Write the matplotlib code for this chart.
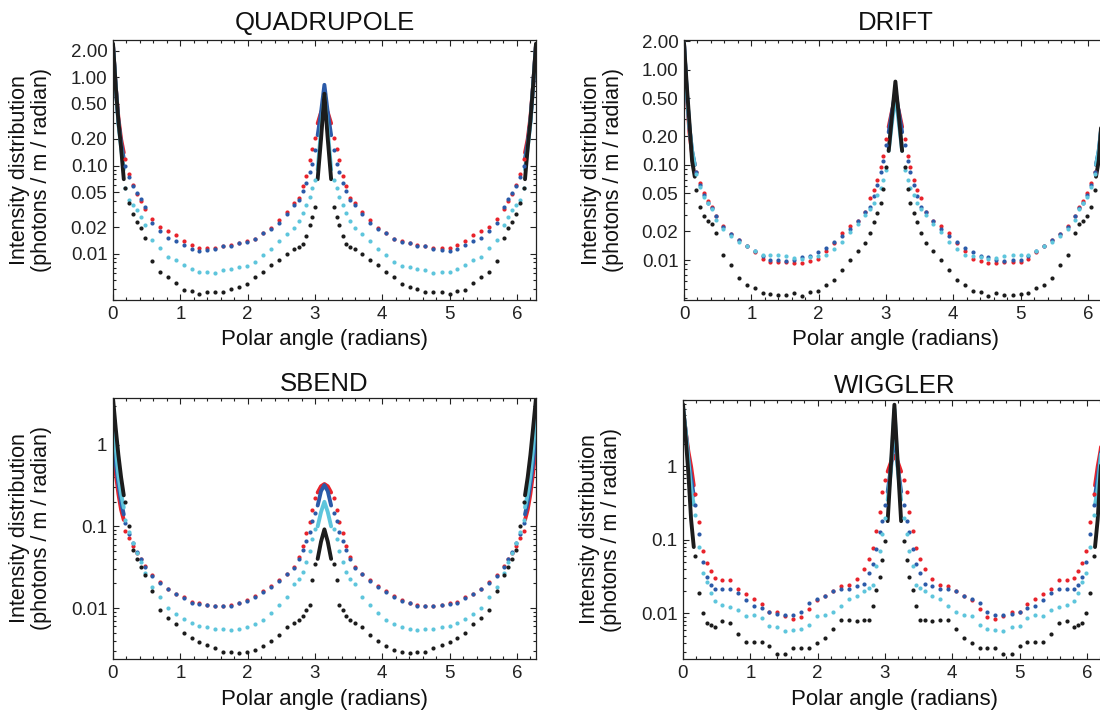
import numpy as np
import matplotlib
matplotlib.use("Agg")
import matplotlib.pyplot as plt
from matplotlib.ticker import FixedLocator, FixedFormatter, NullFormatter

plt.rcParams['font.family'] = ['Liberation Sans', 'DejaVu Sans']

W, H = 1100, 711
nan = np.nan

# ---------------- data ----------------
# polar angles of the sparse samples (radians)
angle = [0.18, 0.24, 0.30, 0.36, 0.41, 0.47, 0.58, 0.70, 0.82, 0.93, 1.05, 1.17, 1.28, 1.40, 1.52, 1.64,
         1.76, 1.87, 1.99, 2.11, 2.23, 2.34, 2.46, 2.58, 2.69, 2.76, 2.82, 2.87, 2.92, 2.96, 3.00,
         3.28, 3.32, 3.36, 3.41, 3.46, 3.52, 3.59, 3.70, 3.82, 3.94, 4.05, 4.17, 4.29, 4.41, 4.52, 4.64,
         4.76, 4.88, 5.00, 5.11, 5.23, 5.35, 5.46, 5.58, 5.70, 5.81, 5.87, 5.92, 5.98, 6.04, 6.10]
# polar angles of the densely sampled stretches (edges and the peak at pi)
dense_angle = [0.00, 0.04, 0.08, 0.12, 0.16, nan, 3.04, 3.09, 3.14, 3.19, 3.24, nan,
               6.12, 6.16, 6.20, 6.24, 6.283]

# QUADRUPOLE
quad_red = [0.119, 0.080, 0.060, 0.047, 0.040, 0.032, 0.025, 0.020, 0.018, 0.0164, 0.0141, 0.0127, 0.0117,
            0.0116, 0.0116, 0.0123, 0.0125, 0.0133, 0.0138, 0.0149, 0.0174, 0.0196, 0.0242, 0.0298, 0.038,
            0.043, 0.058, 0.077, 0.115, 0.153, 0.207,
            0.207, 0.153, 0.115, 0.077, 0.058, 0.043, 0.038, 0.0298, 0.0242, 0.0196, 0.0174, 0.0149, 0.0138,
            0.0133, 0.0125, 0.0123, 0.0116, 0.0116, 0.0117, 0.0127, 0.0141, 0.0164, 0.018, 0.020, 0.025,
            0.032, 0.040, 0.047, 0.060, 0.080, 0.119]
quad_blue = [0.100, 0.075, 0.058, 0.049, 0.042, 0.034, 0.0225, 0.0182, 0.0150, 0.0139, 0.0125, 0.0113, 0.0109,
             0.0110, 0.0113, 0.0122, 0.0124, 0.0131, 0.0137, 0.0148, 0.0172, 0.0193, 0.0225, 0.028, 0.036,
             0.041, 0.052, 0.063, 0.085, 0.105, 0.150,
             0.150, 0.105, 0.085, 0.063, 0.052, 0.041, 0.036, 0.028, 0.0225, 0.0193, 0.0172, 0.0148, 0.0137,
             0.0131, 0.0124, 0.0122, 0.0113, 0.0110, 0.0109, 0.0113, 0.0125, 0.0139, 0.0150, 0.0182, 0.0225,
             0.034, 0.042, 0.049, 0.058, 0.075, 0.100]
quad_cyan = [0.055, 0.041, 0.036, 0.031, 0.026, 0.021, 0.0145, 0.0115, 0.0093, 0.0086, 0.0075, 0.0068, 0.0063,
             0.0062, 0.0060, 0.0066, 0.0067, 0.0071, 0.0073, 0.0081, 0.0098, 0.0114, 0.0138, 0.0168, 0.0198,
             0.0236, 0.029, 0.036, 0.044, 0.055, 0.068,
             0.068, 0.055, 0.044, 0.036, 0.029, 0.0236, 0.0198, 0.0168, 0.0138, 0.0114, 0.0098, 0.0081, 0.0073,
             0.0071, 0.0067, 0.0066, 0.0060, 0.0062, 0.0063, 0.0068, 0.0075, 0.0086, 0.0093, 0.0115, 0.0145,
             0.021, 0.026, 0.031, 0.036, 0.041, 0.055]
quad_black = [0.055, 0.038, 0.028, 0.023, 0.0196, 0.015, 0.0083, 0.0063, 0.0054, 0.0047, 0.0039, 0.0038, 0.0035,
              0.0037, 0.0037, 0.0037, 0.0040, 0.0042, 0.0045, 0.0054, 0.0063, 0.0074, 0.0085, 0.0099, 0.0113,
              0.0118, 0.0128, 0.016, 0.021, 0.026, 0.034,
              0.034, 0.026, 0.021, 0.016, 0.0128, 0.0118, 0.0113, 0.0099, 0.0085, 0.0074, 0.0063, 0.0054, 0.0045,
              0.0042, 0.0040, 0.0037, 0.0037, 0.0037, 0.0035, 0.0038, 0.0039, 0.0047, 0.0054, 0.0063, 0.0083,
              0.015, 0.0196, 0.023, 0.028, 0.038, 0.055]
quad_red_dense = [2.3, 0.8, 0.35, 0.20, 0.14, nan, 0.30, 0.40, 0.48, 0.40, 0.30, nan, 0.14, 0.20, 0.35, 0.8, 2.3]
quad_blue_dense = [2.3, 0.8, 0.32, 0.18, 0.12, nan, 0.22, 0.40, 0.82, 0.40, 0.22, nan, 0.12, 0.18, 0.32, 0.8, 2.3]
quad_cyan_dense = [2.3, 0.8, 0.30, 0.16, 0.09, nan, 0.09, 0.25, 0.62, 0.25, 0.09, nan, 0.09, 0.16, 0.30, 0.8, 2.3]
quad_black_dense = [2.4, 0.8, 0.32, 0.16, 0.07, nan, 0.07, 0.20, 0.65, 0.20, 0.07, nan, 0.07, 0.16, 0.32, 0.8, 2.4]

# DRIFT
drift_red = [0.085, 0.065, 0.050, 0.042, 0.036, 0.029, 0.0225, 0.0189, 0.0161, 0.0141, 0.0120, 0.0102, 0.0095,
             0.0095, 0.0095, 0.0093, 0.0093, 0.0097, 0.0102, 0.0125, 0.0151, 0.0190, 0.0225, 0.0255, 0.032,
             0.045, 0.055, 0.070, 0.095, 0.125, 0.187,
             0.187, 0.125, 0.095, 0.070, 0.055, 0.045, 0.032, 0.0255, 0.0225, 0.0190, 0.0151, 0.0125, 0.0102,
             0.0097, 0.0093, 0.0093, 0.0095, 0.0095, 0.0095, 0.0102, 0.0120, 0.0141, 0.0161, 0.0189, 0.0225,
             0.029, 0.036, 0.042, 0.050, 0.065, 0.085]
drift_blue = [0.085, 0.062, 0.048, 0.040, 0.035, 0.0287, 0.0222, 0.0189, 0.0161, 0.0139, 0.0125, 0.0111, 0.0101,
              0.0099, 0.0098, 0.0101, 0.0107, 0.0111, 0.0120, 0.0134, 0.0155, 0.0177, 0.0211, 0.0259, 0.0316,
              0.036, 0.047, 0.062, 0.085, 0.110, 0.160,
              0.160, 0.110, 0.085, 0.062, 0.047, 0.036, 0.0316, 0.0259, 0.0211, 0.0177, 0.0155, 0.0134, 0.0120,
              0.0111, 0.0107, 0.0101, 0.0098, 0.0099, 0.0101, 0.0111, 0.0125, 0.0139, 0.0161, 0.0189, 0.0222,
              0.0287, 0.035, 0.040, 0.048, 0.062, 0.085]
drift_cyan = [0.080, 0.058, 0.046, 0.040, 0.034, 0.0265, 0.0213, 0.0180, 0.0156, 0.0139, 0.0123, 0.0113, 0.0112,
              0.0112, 0.0109, 0.0105, 0.0103, 0.0107, 0.0109, 0.0114, 0.0130, 0.0156, 0.0195, 0.0239, 0.030,
              0.034, 0.040, 0.048, 0.057, 0.070, 0.089,
              0.089, 0.070, 0.057, 0.048, 0.040, 0.034, 0.030, 0.0239, 0.0195, 0.0156, 0.0130, 0.0114, 0.0109,
              0.0107, 0.0103, 0.0105, 0.0109, 0.0112, 0.0112, 0.0113, 0.0123, 0.0139, 0.0156, 0.0180, 0.0213,
              0.0265, 0.034, 0.040, 0.046, 0.058, 0.080]
drift_black = [0.055, 0.036, 0.029, 0.026, 0.024, 0.019, 0.0113, 0.0089, 0.0065, 0.0055, 0.0051, 0.0045, 0.0044,
               0.0043, 0.0043, 0.0045, 0.0042, 0.0046, 0.0047, 0.0054, 0.0062, 0.0079, 0.0101, 0.0125, 0.015,
               0.019, 0.025, 0.031, 0.040, 0.056, 0.096,
               0.096, 0.056, 0.040, 0.031, 0.025, 0.019, 0.015, 0.0125, 0.0101, 0.0079, 0.0062, 0.0054, 0.0047,
               0.0046, 0.0042, 0.0045, 0.0043, 0.0043, 0.0044, 0.0045, 0.0051, 0.0055, 0.0065, 0.0089, 0.0113,
               0.019, 0.024, 0.026, 0.029, 0.036, 0.055]
drift_red_dense = [1.9, 0.55, 0.22, 0.13, 0.10, nan, 0.25, 0.37, 0.50, 0.37, 0.25, nan, 0.10, 0.13, 0.22, 0.55, 1.9]
drift_blue_dense = [1.9, 0.60, 0.25, 0.14, 0.10, nan, 0.22, 0.36, 0.60, 0.36, 0.22, nan, 0.10, 0.14, 0.25, 0.60, 1.9]
drift_cyan_dense = [1.9, 0.60, 0.25, 0.14, 0.10, nan, 0.14, 0.28, 0.55, 0.28, 0.14, nan, 0.10, 0.14, 0.25, 0.60, 1.9]
drift_black_dense = [1.9, 0.70, 0.28, 0.11, 0.075, nan, 0.14, 0.33, 0.75, 0.33, 0.14, nan, 0.075, 0.11, 0.28, 0.70, 1.9]

# SBEND
sbend_red = [0.087, 0.072, 0.058, 0.047, 0.040, 0.033, 0.0254, 0.0206, 0.0173, 0.0150, 0.0135, 0.0118, 0.0115,
             0.0110, 0.0107, 0.0107, 0.0109, 0.0117, 0.0124, 0.0139, 0.0160, 0.0184, 0.0218, 0.0263, 0.0315,
             0.042, 0.058, 0.083, 0.113, 0.160, 0.220,
             0.220, 0.160, 0.113, 0.083, 0.058, 0.042, 0.0315, 0.0263, 0.0218, 0.0184, 0.0160, 0.0139, 0.0124,
             0.0117, 0.0109, 0.0107, 0.0107, 0.0110, 0.0115, 0.0118, 0.0135, 0.0150, 0.0173, 0.0206, 0.0254,
             0.033, 0.040, 0.047, 0.058, 0.072, 0.087]
sbend_blue = [0.110, 0.080, 0.062, 0.049, 0.040, 0.032, 0.0250, 0.0203, 0.0170, 0.0148, 0.0132, 0.0116, 0.0112,
              0.0108, 0.0105, 0.0105, 0.0107, 0.0114, 0.0121, 0.0136, 0.0156, 0.0180, 0.0213, 0.0258, 0.031,
              0.040, 0.052, 0.066, 0.085, 0.116, 0.146,
              0.146, 0.116, 0.085, 0.066, 0.052, 0.040, 0.031, 0.0258, 0.0213, 0.0180, 0.0156, 0.0136, 0.0121,
              0.0114, 0.0107, 0.0105, 0.0105, 0.0108, 0.0112, 0.0116, 0.0132, 0.0148, 0.0170, 0.0203, 0.0250,
              0.032, 0.040, 0.049, 0.062, 0.080, 0.110]
sbend_cyan = [0.120, 0.085, 0.062, 0.047, 0.037, 0.027, 0.018, 0.0135, 0.0100, 0.0085, 0.0074, 0.0066, 0.0061,
              0.0058, 0.0056, 0.0055, 0.0054, 0.0055, 0.0058, 0.0063, 0.0072, 0.0088, 0.0110, 0.0135, 0.0197,
              0.023, 0.028, 0.037, 0.050, 0.070, 0.094,
              0.094, 0.070, 0.050, 0.037, 0.028, 0.023, 0.0197, 0.0135, 0.0110, 0.0088, 0.0072, 0.0063, 0.0058,
              0.0055, 0.0054, 0.0055, 0.0056, 0.0058, 0.0061, 0.0066, 0.0074, 0.0085, 0.0100, 0.0135, 0.018,
              0.027, 0.037, 0.047, 0.062, 0.085, 0.120]
sbend_black = [0.20, 0.10, 0.052, 0.040, 0.032, 0.0255, 0.016, 0.0095, 0.0075, 0.0063, 0.0050, 0.0043, 0.0038,
               0.0035, 0.0032, 0.0029, 0.0029, 0.0028, 0.0029, 0.0031, 0.0034, 0.0039, 0.0047, 0.0059, 0.0066,
               0.0072, 0.0079, 0.0095, 0.011, 0.022, 0.0346,
               0.0346, 0.022, 0.011, 0.0095, 0.0079, 0.0072, 0.0066, 0.0059, 0.0047, 0.0039, 0.0034, 0.0031, 0.0029,
               0.0028, 0.0029, 0.0029, 0.0032, 0.0035, 0.0038, 0.0043, 0.0050, 0.0063, 0.0075, 0.0095, 0.016,
               0.0255, 0.032, 0.040, 0.052, 0.10, 0.20]
sbend_red_dense = [1.0, 0.45, 0.25, 0.16, 0.12, nan, 0.26, 0.31, 0.33, 0.31, 0.26, nan, 0.12, 0.16, 0.25, 0.45, 1.0]
sbend_blue_dense = [1.5, 0.60, 0.33, 0.20, 0.14, nan, 0.18, 0.27, 0.32, 0.27, 0.18, nan, 0.14, 0.20, 0.33, 0.60, 1.5]
sbend_cyan_dense = [2.2, 0.90, 0.42, 0.25, 0.17, nan, 0.10, 0.15, 0.20, 0.15, 0.10, nan, 0.17, 0.25, 0.42, 0.90, 2.2]
sbend_black_dense = [3.7, 1.6, 0.75, 0.40, 0.24, nan, 0.040, 0.065, 0.092, 0.065, 0.040, nan, 0.24, 0.40, 0.75, 1.6, 3.7]

# WIGGLER
wig_red = [0.42, 0.175, 0.070, 0.048, 0.038, 0.030, 0.0283, 0.0286, 0.0216, 0.0185, 0.0158, 0.0135, 0.0105,
           0.0105, 0.0091, 0.0084, 0.0090, 0.0115, 0.0152, 0.0175, 0.0201, 0.0235, 0.0240, 0.0296, 0.0404,
           0.0558, 0.078, 0.131, 0.241, 0.45, 0.65,
           0.65, 0.45, 0.241, 0.131, 0.078, 0.0558, 0.0404, 0.0296, 0.0240, 0.0235, 0.0201, 0.0175, 0.0152,
           0.0115, 0.0090, 0.0084, 0.0091, 0.0105, 0.0105, 0.0135, 0.0158, 0.0185, 0.0216, 0.0286, 0.0283,
           0.030, 0.038, 0.048, 0.070, 0.175, 0.42]
wig_blue = [0.30, 0.12, 0.050, 0.031, 0.024, 0.0212, 0.0212, 0.0216, 0.0187, 0.0150, 0.0126, 0.0117, 0.0104,
            0.0097, 0.0096, 0.0094, 0.0104, 0.0137, 0.0155, 0.0175, 0.0201, 0.0216, 0.0216, 0.0235, 0.0248,
            0.035, 0.047, 0.0755, 0.13, 0.179, 0.30,
            0.30, 0.179, 0.13, 0.0755, 0.047, 0.035, 0.0248, 0.0235, 0.0216, 0.0216, 0.0201, 0.0175, 0.0155,
            0.0137, 0.0104, 0.0094, 0.0096, 0.0097, 0.0104, 0.0117, 0.0126, 0.0150, 0.0187, 0.0216, 0.0212,
            0.0212, 0.024, 0.031, 0.050, 0.12, 0.30]
wig_cyan = [0.22, 0.08, 0.035, 0.0266, 0.019, 0.0147, 0.0132, 0.0123, 0.0110, 0.0092, 0.0095, 0.0088, 0.0068,
            0.0066, 0.0058, 0.0060, 0.0062, 0.0069, 0.0092, 0.0094, 0.0106, 0.0126, 0.0155, 0.0175, 0.020,
            0.022, 0.024, 0.044, 0.07, 0.12, 0.20,
            0.20, 0.12, 0.07, 0.044, 0.024, 0.022, 0.020, 0.0175, 0.0155, 0.0126, 0.0106, 0.0094, 0.0092,
            0.0069, 0.0062, 0.0060, 0.0058, 0.0066, 0.0068, 0.0088, 0.0095, 0.0092, 0.0110, 0.0123, 0.0132,
            0.0147, 0.019, 0.0266, 0.035, 0.08, 0.22]
wig_black = [0.06, 0.019, 0.0102, 0.0075, 0.0070, 0.0066, 0.0079, 0.0075, 0.0052, 0.0041, 0.0041, 0.0041, 0.0036,
             0.0028, 0.0028, 0.0034, 0.0034, 0.0034, 0.0040, 0.0047, 0.0062, 0.0081, 0.0081, 0.0079, 0.0082,
             0.0082, 0.0128, 0.021, 0.031, 0.054, 0.096,
             0.096, 0.054, 0.031, 0.021, 0.0128, 0.0082, 0.0082, 0.0079, 0.0081, 0.0081, 0.0062, 0.0047, 0.0040,
             0.0034, 0.0034, 0.0034, 0.0028, 0.0028, 0.0036, 0.0041, 0.0041, 0.0041, 0.0052, 0.0075, 0.0079,
             0.0066, 0.0070, 0.0075, 0.0102, 0.019, 0.06]
wig_red_dense = [6.0, 3.0, 1.6, 1.0, 0.55, nan, 0.85, 1.15, 1.4, 1.15, 0.85, nan, 0.55, 1.0, 1.6, 3.0, 6.0]
wig_blue_dense = [6.0, 3.0, 1.3, 0.7, 0.40, nan, 0.45, 1.0, 3.0, 1.0, 0.45, nan, 0.40, 0.7, 1.3, 3.0, 6.0]
wig_cyan_dense = [6.5, 3.0, 1.2, 0.5, 0.30, nan, 0.35, 0.9, 6.0, 0.9, 0.35, nan, 0.30, 0.5, 1.2, 3.0, 6.5]
wig_black_dense = [7.0, 2.5, 0.8, 0.19, 0.08, nan, 0.18, 1.1, 6.9, 1.1, 0.18, nan, 0.08, 0.19, 0.8, 2.5, 7.0]

titles = ["QUADRUPOLE", "DRIFT", "SBEND", "WIGGLER"]
xticks = [0, 1, 2, 3, 4, 5, 6]
ticks_fine = [0.01, 0.02, 0.05, 0.10, 0.20, 0.50, 1.00, 2.00]
labels_fine = ["0.01", "0.02", "0.05", "0.10", "0.20", "0.50", "1.00", "2.00"]
ticks_dec = [0.01, 0.1, 1]
labels_dec = ["0.01", "0.1", "1"]
xlabel = "Polar angle (radians)"
ylabel1 = "Intensity distribution"
ylabel2 = "(photons / m / radian)"

colors = ["#e8232b", "#2b5aa8", "#5ec5dc", "#1c1c1c"]

# ---------------- layout ----------------
fig = plt.figure(figsize=(W / 100, H / 100), dpi=100)


def rect(l, t, r, b):
    return [l / W, 1 - b / H, (r - l) / W, (b - t) / H]


boxes = [(113, 40, 536, 300), (684, 40, 1107, 300), (113, 398, 536, 659), (683, 400, 1106, 659)]
ylims = [(0.0030, 2.64), (0.0038, 2.05), (0.00238, 3.73), (0.0024, 8.0)]
series = [
    ([quad_red, quad_blue, quad_cyan, quad_black],
     [quad_red_dense, quad_blue_dense, quad_cyan_dense, quad_black_dense]),
    ([drift_red, drift_blue, drift_cyan, drift_black],
     [drift_red_dense, drift_blue_dense, drift_cyan_dense, drift_black_dense]),
    ([sbend_red, sbend_blue, sbend_cyan, sbend_black],
     [sbend_red_dense, sbend_blue_dense, sbend_cyan_dense, sbend_black_dense]),
    ([wig_red, wig_blue, wig_cyan, wig_black],
     [wig_red_dense, wig_blue_dense, wig_cyan_dense, wig_black_dense]),
]
title_pads = [7, 7, 5, 5]

for i in range(4):
    l, t, r, b = boxes[i]
    ax = fig.add_axes(rect(l, t, r, b))
    sparse, dense = series[i]
    for vals, dvals, c in zip(sparse, dense, colors):
        assert len(vals) == len(angle)
        assert len(dvals) == len(dense_angle)
        ax.plot(dense_angle, dvals, '-', lw=2.8, color=c, solid_capstyle='round', zorder=2)
        ax.plot(angle, vals, 'o', ms=3.0, mew=0, color=c, zorder=3)
    ax.set_yscale('log')
    ax.set_xlim(0, 2 * np.pi)
    ax.set_ylim(*ylims[i])
    ax.xaxis.set_major_locator(FixedLocator(xticks))
    ax.set_xticklabels([str(v) for v in xticks])
    ax.xaxis.set_minor_locator(FixedLocator([k * 0.2 for k in range(32) if k % 5 != 0]))
    if i < 2:
        ax.yaxis.set_major_locator(FixedLocator(ticks_fine))
        ax.yaxis.set_major_formatter(FixedFormatter(labels_fine))
        minors = [m * 10.0 ** e for e in range(-3, 1) for m in (3, 4, 6, 7, 8, 9)] + [0.002, 0.005]
    else:
        ax.yaxis.set_major_locator(FixedLocator(ticks_dec))
        ax.yaxis.set_major_formatter(FixedFormatter(labels_dec))
        minors = [m * 10.0 ** e for e in range(-3, 1) for m in range(2, 10)]
    ax.yaxis.set_minor_locator(FixedLocator(minors))
    ax.yaxis.set_minor_formatter(NullFormatter())
    ax.tick_params(which='both', direction='in', top=True, right=True, width=0.8, colors='#222222')
    ax.tick_params(which='major', length=4.5, labelsize=13.5, pad=4, labelcolor='#222222')
    ax.tick_params(which='minor', length=2.2)
    for s in ax.spines.values():
        s.set_linewidth(0.9)
        s.set_color('#222222')
    ax.set_title(titles[i], fontsize=18.5, pad=title_pads[i], color='#111111')
    cx = (l + r) / 2
    fig.text(cx / W, 1 - (b + 40) / H, xlabel, ha='center', va='center', fontsize=16, color='#111111')
    cy = (t + b) / 2
    fig.text((l - 93) / W, 1 - cy / H, ylabel1, rotation=90, ha='center', va='center', fontsize=15.5,
             color='#111111')
    fig.text((l - 71) / W, 1 - cy / H, ylabel2, rotation=90, ha='center', va='center', fontsize=15.5,
             color='#111111')

fig.savefig("out.png", dpi=100)
